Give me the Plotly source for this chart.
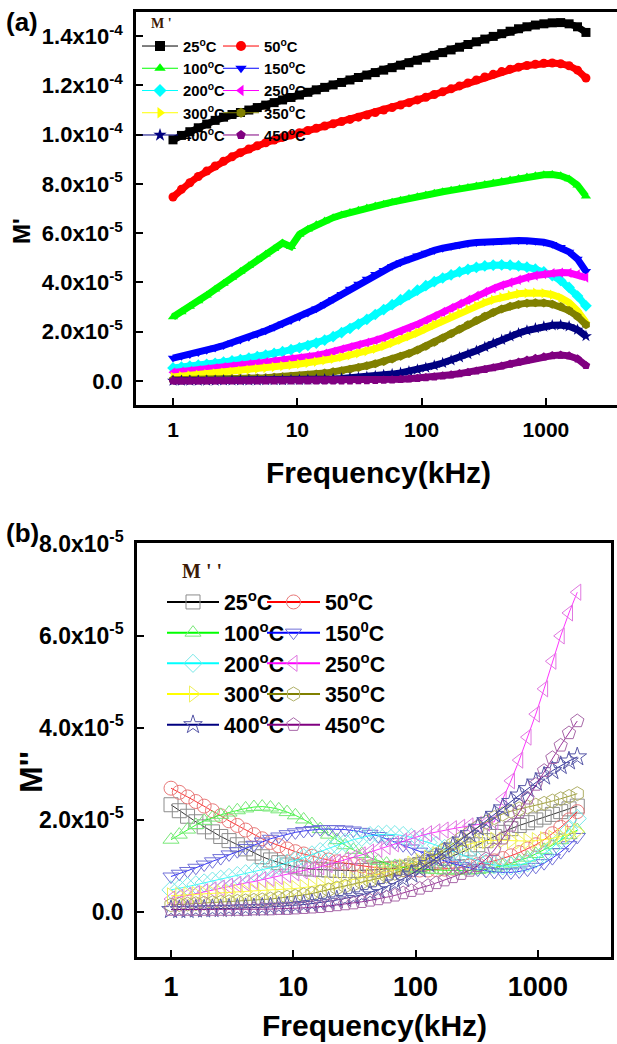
import plotly.graph_objects as go

# ---------------- data ----------------
freq_khz = [1.0, 1.169, 1.366, 1.597, 1.867, 2.183, 2.551, 2.983, 3.487, 4.076,
            4.764, 5.569, 6.51, 7.61, 8.90, 10.40, 12.16, 14.21, 16.61, 19.42,
            22.70, 26.53, 31.01, 36.26, 42.38, 49.55, 57.92, 67.70, 79.14, 92.51,
            108.1, 126.4, 147.8, 172.7, 201.9, 236.0, 275.9, 322.5, 377.0, 440.7,
            515.2, 602.3, 704.0, 823.0, 962.1, 1124.7, 1314.7, 1536.9, 1796.6, 2100.2]

temps = ["25", "50", "100", "150", "200", "250", "300", "350", "400", "450"]
legend_a = ["25<sup>o</sup>C", "50<sup>o</sup>C", "100<sup>o</sup>C", "150<sup>o</sup>C", "200<sup>o</sup>C",
            "250<sup>o</sup>C", "300<sup>o</sup>C", "350<sup>o</sup>C", "400<sup>o</sup>C", "450<sup>o</sup>C"]
legend_b = ["25<sup>o</sup>C", "50<sup>o</sup>C", "100<sup>o</sup>C", "150<sup>0</sup>C", "200<sup>o</sup>C",
            "250<sup>o</sup>C", "300<sup>o</sup>C", "350<sup>o</sup>C", "400<sup>o</sup>C", "450<sup>o</sup>C"]

UNIT = 1e-5  # values below are in units of 1e-5

# M' (panel a)
m1_25 = [9.79, 9.97, 10.12, 10.28, 10.43, 10.58, 10.71, 10.82, 10.9, 11.0,
         11.1, 11.2, 11.3, 11.41, 11.51, 11.61, 11.72, 11.82, 11.92, 12.02,
         12.12, 12.22, 12.32, 12.42, 12.52, 12.62, 12.72, 12.82, 12.92, 13.02,
         13.12, 13.22, 13.33, 13.44, 13.55, 13.66, 13.77, 13.88, 13.99, 14.1,
         14.2, 14.3, 14.38, 14.45, 14.5, 14.54, 14.55, 14.5, 14.38, 14.15]
m1_50 = [7.47, 7.78, 8.05, 8.3, 8.52, 8.73, 8.92, 9.1, 9.27, 9.42,
         9.55, 9.67, 9.78, 9.89, 9.99, 10.08, 10.17, 10.26, 10.35, 10.44,
         10.53, 10.62, 10.71, 10.8, 10.9, 11.0, 11.1, 11.2, 11.3, 11.41,
         11.52, 11.63, 11.74, 11.86, 11.98, 12.1, 12.22, 12.34, 12.45, 12.56,
         12.66, 12.74, 12.81, 12.86, 12.9, 12.91, 12.88, 12.8, 12.62, 12.3]
m1_100 = [2.6, 2.8, 3.02, 3.25, 3.48, 3.72, 3.96, 4.2, 4.44, 4.68,
          4.92, 5.15, 5.37, 5.6, 5.45, 5.95, 6.16, 6.34, 6.5, 6.63,
          6.74, 6.84, 6.93, 7.02, 7.1, 7.18, 7.26, 7.34, 7.41, 7.48,
          7.55, 7.62, 7.68, 7.74, 7.8, 7.86, 7.92, 7.98, 8.04, 8.1,
          8.16, 8.22, 8.28, 8.33, 8.37, 8.38, 8.33, 8.2, 7.95, 7.5]
m1_150 = [0.93, 1.0, 1.08, 1.16, 1.25, 1.34, 1.44, 1.55, 1.66, 1.78,
          1.91, 2.04, 2.18, 2.32, 2.46, 2.6, 2.76, 2.93, 3.12, 3.32,
          3.52, 3.73, 3.94, 4.14, 4.33, 4.5, 4.66, 4.81, 4.95, 5.08,
          5.2, 5.3, 5.39, 5.47, 5.53, 5.58, 5.62, 5.65, 5.67, 5.69,
          5.7, 5.7, 5.69, 5.67, 5.63, 5.55, 5.43, 5.24, 4.95, 4.45]
m1_200 = [0.53, 0.56, 0.6, 0.64, 0.68, 0.72, 0.77, 0.82, 0.87, 0.93,
          0.99, 1.05, 1.12, 1.19, 1.27, 1.35, 1.44, 1.54, 1.66, 1.8,
          1.96, 2.13, 2.31, 2.5, 2.7, 2.9, 3.1, 3.3, 3.5, 3.69,
          3.87, 4.03, 4.18, 4.31, 4.43, 4.53, 4.61, 4.67, 4.7, 4.71,
          4.7, 4.67, 4.62, 4.54, 4.43, 4.28, 4.08, 3.8, 3.45, 3.05]
m1_250 = [0.35, 0.38, 0.41, 0.44, 0.48, 0.52, 0.56, 0.6, 0.64, 0.68,
          0.72, 0.76, 0.8, 0.85, 0.89, 0.93, 0.98, 1.04, 1.11, 1.19,
          1.28, 1.37, 1.46, 1.55, 1.65, 1.76, 1.88, 2.01, 2.15, 2.3,
          2.46, 2.63, 2.8, 2.97, 3.14, 3.3, 3.46, 3.61, 3.75, 3.88,
          4.0, 4.11, 4.2, 4.28, 4.34, 4.38, 4.4, 4.39, 4.33, 4.2]
m1_300 = [0.16, 0.19, 0.22, 0.25, 0.28, 0.31, 0.34, 0.37, 0.41, 0.45,
          0.49, 0.53, 0.57, 0.61, 0.65, 0.69, 0.73, 0.78, 0.84, 0.9,
          0.97, 1.04, 1.12, 1.21, 1.31, 1.42, 1.54, 1.67, 1.81, 1.96,
          2.12, 2.28, 2.44, 2.6, 2.76, 2.91, 3.05, 3.18, 3.3, 3.4,
          3.48, 3.54, 3.57, 3.58, 3.56, 3.5, 3.38, 3.18, 2.85, 2.38]
m1_350 = [0.05, 0.05, 0.06, 0.06, 0.07, 0.07, 0.08, 0.09, 0.1, 0.11,
          0.12, 0.13, 0.15, 0.17, 0.19, 0.21, 0.24, 0.28, 0.32, 0.37,
          0.42, 0.48, 0.55, 0.62, 0.7, 0.79, 0.89, 1.0, 1.12, 1.26,
          1.41, 1.57, 1.74, 1.92, 2.1, 2.28, 2.46, 2.63, 2.78, 2.92,
          3.03, 3.11, 3.16, 3.18, 3.17, 3.12, 3.02, 2.86, 2.62, 2.28]
m1_400 = [0.01, 0.01, 0.01, 0.01, 0.01, 0.01, 0.02, 0.02, 0.02, 0.02,
          0.02, 0.03, 0.03, 0.03, 0.04, 0.04, 0.05, 0.06, 0.07, 0.08,
          0.1, 0.12, 0.14, 0.17, 0.2, 0.24, 0.28, 0.33, 0.39, 0.46,
          0.54, 0.63, 0.73, 0.84, 0.96, 1.09, 1.23, 1.38, 1.53, 1.67,
          1.81, 1.94, 2.05, 2.14, 2.21, 2.26, 2.27, 2.22, 2.08, 1.82]
m1_450 = [0.0, 0.0, 0.0, 0.0, 0.0, 0.0, 0.0, 0.0, 0.0, 0.0,
          0.0, 0.0, 0.0, 0.0, 0.0, 0.0, 0.0, 0.0, 0.0, 0.0,
          0.01, 0.01, 0.02, 0.02, 0.03, 0.04, 0.05, 0.07, 0.09, 0.11,
          0.14, 0.17, 0.21, 0.25, 0.3, 0.35, 0.41, 0.47, 0.54, 0.61,
          0.69, 0.77, 0.85, 0.92, 0.98, 1.03, 1.05, 1.02, 0.9, 0.63]

# M'' (panel b)
m2_25 = [2.33, 2.2, 2.08, 1.96, 1.85, 1.74, 1.64, 1.55, 1.46, 1.37,
         1.28, 1.2, 1.13, 1.07, 1.02, 0.98, 0.95, 0.93, 0.92, 0.91,
         0.9, 0.9, 0.9, 0.9, 0.91, 0.92, 0.93, 0.95, 0.97, 1.0,
         1.03, 1.07, 1.11, 1.16, 1.22, 1.29, 1.37, 1.46, 1.55, 1.64,
         1.73, 1.81, 1.88, 1.94, 2.0, 2.06, 2.12, 2.18, 2.24, 2.3]
m2_50 = [2.69, 2.6, 2.5, 2.4, 2.3, 2.2, 2.09, 1.98, 1.88, 1.78,
         1.68, 1.59, 1.51, 1.44, 1.37, 1.31, 1.26, 1.21, 1.17, 1.13,
         1.09, 1.06, 1.03, 1.0, 0.98, 0.96, 0.94, 0.93, 0.92, 0.91,
         0.91, 0.91, 0.92, 0.93, 0.95, 0.97, 1.0, 1.03, 1.07, 1.11,
         1.16, 1.22, 1.29, 1.37, 1.46, 1.57, 1.7, 1.84, 2.0, 2.18]
m2_100 = [1.57, 1.68, 1.79, 1.89, 1.98, 2.05, 2.11, 2.16, 2.21, 2.25,
          2.28, 2.29, 2.27, 2.23, 2.17, 2.1, 2.01, 1.91, 1.8, 1.68,
          1.56, 1.45, 1.35, 1.26, 1.18, 1.11, 1.05, 1.0, 0.97, 0.95,
          0.93, 0.92, 0.91, 0.9, 0.9, 0.9, 0.9, 0.91, 0.93, 0.96,
          1.0, 1.05, 1.11, 1.18, 1.26, 1.35, 1.45, 1.56, 1.67, 1.78]
m2_150 = [0.77, 0.83, 0.89, 0.96, 1.03, 1.1, 1.17, 1.25, 1.32, 1.39,
          1.46, 1.53, 1.59, 1.64, 1.69, 1.73, 1.76, 1.78, 1.8, 1.8,
          1.8, 1.79, 1.77, 1.74, 1.7, 1.65, 1.59, 1.52, 1.45, 1.38,
          1.31, 1.24, 1.17, 1.11, 1.05, 1.0, 0.96, 0.92, 0.89, 0.87,
          0.86, 0.86, 0.88, 0.92, 0.98, 1.06, 1.17, 1.3, 1.45, 1.63]
m2_200 = [0.48, 0.51, 0.55, 0.59, 0.63, 0.67, 0.71, 0.75, 0.79, 0.83,
          0.87, 0.91, 0.96, 1.01, 1.06, 1.12, 1.18, 1.24, 1.31, 1.38,
          1.45, 1.51, 1.57, 1.62, 1.66, 1.68, 1.69, 1.68, 1.66, 1.62,
          1.57, 1.51, 1.45, 1.38, 1.31, 1.24, 1.17, 1.11, 1.06, 1.02,
          1.0, 1.0, 1.02, 1.07, 1.15, 1.26, 1.4, 1.57, 1.78, 2.03]
m2_250 = [0.28, 0.32, 0.36, 0.4, 0.44, 0.48, 0.52, 0.56, 0.6, 0.63,
          0.66, 0.7, 0.73, 0.77, 0.81, 0.85, 0.89, 0.93, 0.98, 1.03,
          1.08, 1.13, 1.18, 1.24, 1.3, 1.36, 1.42, 1.48, 1.54, 1.6,
          1.65, 1.7, 1.74, 1.78, 1.81, 1.84, 1.87, 1.9, 1.93, 1.96,
          2.45, 2.85, 3.3, 3.8, 4.3, 4.85, 5.45, 6.0, 6.5, 6.95]
m2_300 = [0.35, 0.36, 0.37, 0.38, 0.39, 0.4, 0.41, 0.42, 0.43, 0.44,
          0.45, 0.46, 0.47, 0.48, 0.49, 0.51, 0.53, 0.55, 0.58, 0.61,
          0.64, 0.67, 0.7, 0.74, 0.78, 0.82, 0.87, 0.92, 0.98, 1.04,
          1.1, 1.17, 1.24, 1.31, 1.37, 1.43, 1.48, 1.52, 1.55, 1.56,
          1.56, 1.55, 1.54, 1.54, 1.55, 1.57, 1.6, 1.64, 1.69, 1.75]
m2_350 = [0.15, 0.16, 0.17, 0.18, 0.19, 0.2, 0.21, 0.22, 0.23, 0.24,
          0.25, 0.26, 0.28, 0.3, 0.32, 0.34, 0.37, 0.4, 0.44, 0.48,
          0.52, 0.56, 0.6, 0.64, 0.68, 0.73, 0.78, 0.84, 0.91, 0.98,
          1.06, 1.15, 1.25, 1.36, 1.48, 1.6, 1.72, 1.84, 1.95, 2.05,
          2.13, 2.19, 2.24, 2.28, 2.32, 2.36, 2.41, 2.46, 2.51, 2.57]
m2_400 = [0.05, 0.05, 0.05, 0.06, 0.06, 0.07, 0.07, 0.08, 0.08, 0.09,
          0.09, 0.1, 0.11, 0.12, 0.13, 0.14, 0.16, 0.18, 0.2, 0.23,
          0.26, 0.29, 0.33, 0.37, 0.42, 0.48, 0.55, 0.63, 0.72, 0.82,
          0.93, 1.05, 1.17, 1.3, 1.43, 1.56, 1.7, 1.84, 1.98, 2.12,
          2.26, 2.4, 2.54, 2.68, 2.82, 2.95, 3.07, 3.18, 3.28, 3.37]
m2_450 = [0.05, 0.05, 0.05, 0.05, 0.05, 0.05, 0.05, 0.05, 0.05, 0.05,
          0.06, 0.06, 0.06, 0.07, 0.07, 0.08, 0.09, 0.1, 0.11, 0.13,
          0.15, 0.17, 0.19, 0.22, 0.25, 0.28, 0.32, 0.36, 0.41, 0.46,
          0.51, 0.57, 0.63, 0.69, 0.76, 0.83, 0.9, 1.0, 1.15, 1.35,
          1.6, 1.88, 2.17, 2.47, 2.77, 3.07, 3.35, 3.62, 3.89, 4.15]

series_a = [m1_25, m1_50, m1_100, m1_150, m1_200, m1_250, m1_300, m1_350, m1_400, m1_450]
series_b = [m2_25, m2_50, m2_100, m2_150, m2_200, m2_250, m2_300, m2_350, m2_400, m2_450]

xtick_vals = [1, 10, 100, 1000]
xtick_text = ["1", "10", "100", "1000"]
ya_tick_vals = [0, 2e-5, 4e-5, 6e-5, 8e-5, 1.0e-4, 1.2e-4, 1.4e-4]
ya_tick_text = ["0.0", "2.0x10<sup>-5</sup>", "4.0x10<sup>-5</sup>", "6.0x10<sup>-5</sup>",
                "8.0x10<sup>-5</sup>", "1.0x10<sup>-4</sup>", "1.2x10<sup>-4</sup>", "1.4x10<sup>-4</sup>"]
yb_tick_vals = [0, 2e-5, 4e-5, 6e-5, 8e-5]
yb_tick_text = ["0.0", "2.0x10<sup>-5</sup>", "4.0x10<sup>-5</sup>", "6.0x10<sup>-5</sup>", "8.0x10<sup>-5</sup>"]

# ---------------- styles ----------------
colors = ["#000000", "#ff0000", "#00ff00", "#0000ff", "#00ffff",
          "#ff00ff", "#ffff00", "#808000", "#000080", "#800080"]
light = ["#8c8c8c", "#e87878", "#78e878", "#7070d8", "#78e8e8",
         "#e078e0", "#f0f060", "#b0b068", "#5858a8", "#a868a8"]
symbols = ["square", "circle", "triangle-up", "triangle-down", "diamond",
           "triangle-left", "triangle-right", "hexagon", "star", "pentagon"]

FONT = "Liberation Sans"
SERIF = "Liberation Serif"

fig = go.Figure()

# panel (a): thick bands + dense filled markers
for i in range(10):
    y = [v * UNIT for v in series_a[i]]
    fig.add_trace(go.Scatter(x=freq_khz, y=y, mode="lines", xaxis="x", yaxis="y",
                             line=dict(color=colors[i], width=7), showlegend=False, hoverinfo="skip"))
    fig.add_trace(go.Scatter(x=freq_khz, y=y, mode="markers", xaxis="x", yaxis="y",
                             marker=dict(symbol=symbols[i], size=9, color=colors[i], line=dict(width=0)),
                             showlegend=False))
# legend-only entries (a)
for i in range(10):
    fig.add_trace(go.Scatter(x=[None], y=[None], mode="lines+markers", xaxis="x", yaxis="y",
                             name=legend_a[i], legend="legend" if i % 2 == 0 else "legend2",
                             line=dict(color=colors[i], width=1),
                             marker=dict(symbol=symbols[i], size=10, color=colors[i], line=dict(width=0))))

# panel (b): open markers with thin lines
for i in range(10):
    y = [v * UNIT for v in series_b[i]]
    fig.add_trace(go.Scatter(x=freq_khz, y=y, mode="lines+markers", xaxis="x2", yaxis="y2",
                             line=dict(color=colors[i], width=0.8),
                             marker=dict(symbol=symbols[i] + "-open", size=14, color=light[i],
                                         line=dict(width=1)),
                             showlegend=False))
for i in range(10):
    fig.add_trace(go.Scatter(x=[None], y=[None], mode="lines+markers", xaxis="x2", yaxis="y2",
                             name=legend_b[i], legend="legend3" if i % 2 == 0 else "legend4",
                             line=dict(color=colors[i], width=2),
                             marker=dict(symbol=symbols[i] + "-open", size=14, color=light[i],
                                         line=dict(width=1))))

W, H = 617, 1044
axis_common = dict(showline=True, linecolor="black", linewidth=2.5, ticks="inside",
                   tickcolor="black", tickwidth=2, ticklen=7, showgrid=False, zeroline=False)

fig.update_layout(
    width=W, height=H,
    margin=dict(l=0, r=0, t=0, b=0, autoexpand=False),
    plot_bgcolor="white", paper_bgcolor="white",
    xaxis=dict(type="log", domain=[136 / W, 1.0], range=[-0.2977, 3.572], anchor="y",
               mirror=True, tickvals=xtick_vals, ticktext=xtick_text, ticklabelstandoff=4,
               tickfont=dict(family=FONT, size=21, color="black", weight="bold"), **axis_common),
    yaxis=dict(domain=[1 - 405 / H, 1 - 12 / H], range=[-0.975e-5, 1.498e-4], anchor="x",
               mirror=False, tickvals=ya_tick_vals, ticktext=ya_tick_text, ticklabelstandoff=6,
               tickfont=dict(family=FONT, size=22, color="black", weight="bold"), **axis_common),
    xaxis2=dict(type="log", domain=[137 / W, 611 / W], range=[-0.278, 3.598], anchor="y2",
                mirror=True, tickvals=xtick_vals, ticktext=xtick_text, ticklabelstandoff=4,
                tickfont=dict(family=FONT, size=27, color="black", weight="bold"), **axis_common),
    yaxis2=dict(domain=[1 - 957 / H, 1 - 543 / H], range=[-0.98e-5, 8.02e-5], anchor="x2",
                mirror=True, tickvals=yb_tick_vals, ticktext=yb_tick_text, ticklabelstandoff=6,
                tickfont=dict(family=FONT, size=23, color="black", weight="bold"), **axis_common),
)

leg_a = dict(yanchor="top", xanchor="left", bgcolor="rgba(0,0,0,0)", borderwidth=0,
             font=dict(family=FONT, size=14.8, color="black", weight="bold"),
             itemwidth=36, tracegroupgap=0, traceorder="normal")
leg_b = dict(yanchor="top", xanchor="left", bgcolor="rgba(0,0,0,0)", borderwidth=0,
             font=dict(family=FONT, size=21.3, color="black", weight="bold"),
             tracegroupgap=0, traceorder="normal")
fig.update_layout(
    legend=dict(x=137 / W, y=1 - 29.9 / H, **leg_a),
    legend2=dict(x=218 / W, y=1 - 29.9 / H, **leg_a),
    legend3=dict(x=162 / W, y=1 - 581.6 / H, itemwidth=52, **leg_b),
    legend4=dict(x=262 / W, y=1 - 581.6 / H, itemwidth=53, **leg_b),
)

def ann(text, px, py, size, family=FONT, angle=0, color="black"):
    fig.add_annotation(text=text, x=px / W, y=1 - py / H, xref="paper", yref="paper",
                       xanchor="center", yanchor="middle", showarrow=False, textangle=angle,
                       font=dict(family=family, size=size, color=color, weight="bold"))

ann("(a)", 22, 22, 26)
ann("(b)", 22, 533, 26)
ann("Frequency(kHz)", 378, 472, 30)
ann("Frequency(kHz)", 374, 1025, 30)
ann("M'", 22, 231, 24, angle=-90)
ann("M''", 31, 772, 32, angle=-90)
ann("M '", 162, 24, 14, family=SERIF, color="#3d1a06")
ann("M ' '", 202, 571, 20, family=SERIF, color="#3d1a06")

fig.write_html("out.html")
